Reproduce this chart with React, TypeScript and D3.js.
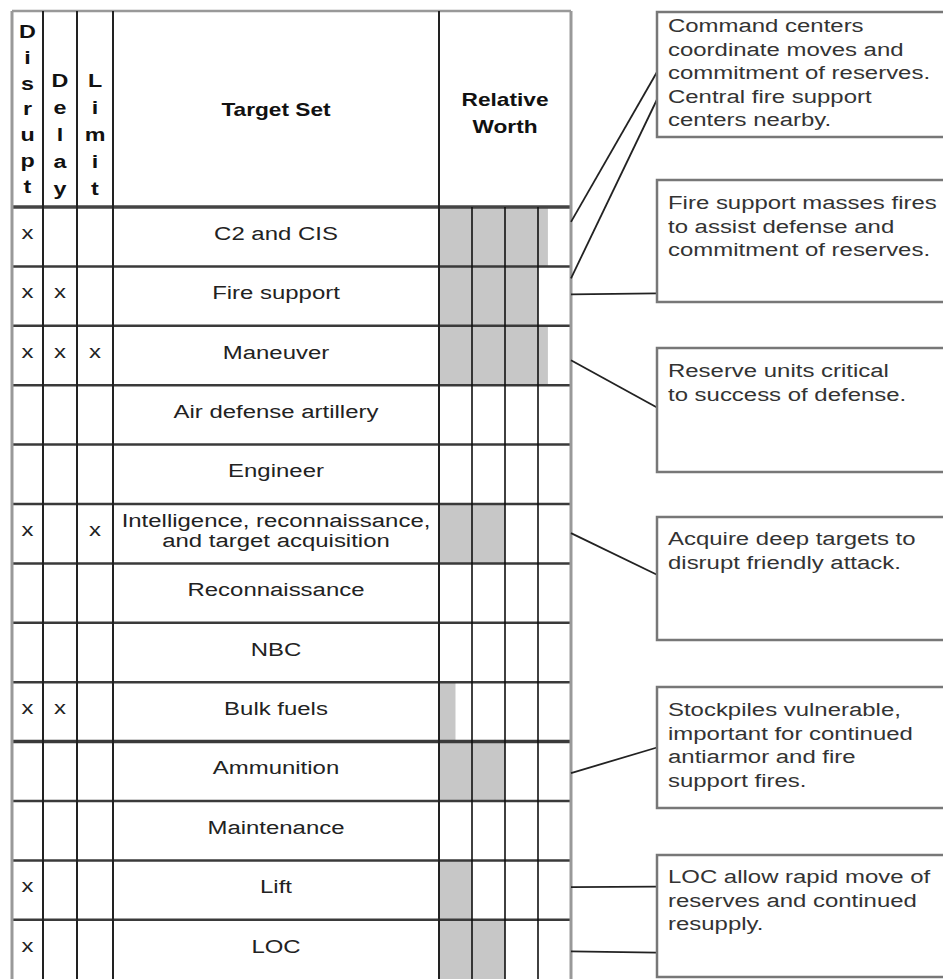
import React, { useEffect } from 'react';
import * as d3 from 'd3';

// Target sets, top to bottom
const targetSets = [
  'C2 and CIS',
  'Fire support',
  'Maneuver',
  'Air defense artillery',
  'Engineer',
  'Intelligence, reconnaissance,|and target acquisition',
  'Reconnaissance',
  'NBC',
  'Bulk fuels',
  'Ammunition',
  'Maintenance',
  'Lift',
  'LOC',
];

// x marks per effect column (1 = marked)
const disrupt = [1, 1, 1, 0, 0, 1, 0, 0, 1, 0, 0, 1, 1];
const delay = [0, 1, 1, 0, 0, 0, 0, 0, 1, 0, 0, 0, 0];
const limit = [0, 0, 1, 0, 0, 1, 0, 0, 0, 0, 0, 0, 0];

// Relative worth, in grid cells (0..4)
const relativeWorth = [3.3, 3, 3.3, 0, 0, 2, 0, 0, 0.5, 2, 0, 1, 2];
const worthTicks = [0, 1, 2, 3, 4];

const effectHeaders = ['Disrupt', 'Delay', 'Limit'];

const calloutText = [
  ['Command centers', 'coordinate moves and', 'commitment of reserves.', 'Central fire support', 'centers nearby.'],
  ['Fire support masses fires', 'to assist defense and', 'commitment of reserves.'],
  ['Reserve units critical', 'to success of defense.'],
  ['Acquire deep targets to', 'disrupt friendly attack.'],
  ['Stockpiles vulnerable,', 'important for continued', 'antiarmor and fire', 'support fires.'],
  ['LOC allow rapid move of', 'reserves and continued', 'resupply.'],
];

// which row points at which callout box
const calloutLinks = [
  { row: 0, box: 0 },
  { row: 1, box: 0 },
  { row: 1, box: 1 },
  { row: 2, box: 2 },
  { row: 5, box: 3 },
  { row: 9, box: 4 },
  { row: 11, box: 5 },
  { row: 12, box: 5 },
];

// layout
const W = 943;
const H = 979;
const font = '"Liberation Sans", Arial, Helvetica, sans-serif';
const SX = 1.26; // the scan is stretched sideways
const tableTop = 11;
const headTop = 207;
const rowH = 59.4;
const colX = [12, 43, 77, 113, 439, 571];
const boxLeft = 657;
const boxRight = 965;
const boxTop = [12, 180, 348, 517, 687, 855];
const boxH = [125, 122, 124, 123, 121, 122];
const firstLine = [13, 22, 22, 21, 22, 21];
const lineH = 23.5;
const linkAt = [
  { r: 0.25, b: 0.48 },
  { r: 0.2, b: 0.7 },
  { r: 0.47, b: 0.93 },
  { r: 0.58, b: 0.48 },
  { r: 0.49, b: 0.47 },
  { r: 0.53, b: 0.5 },
  { r: 0.45, b: 0.26 },
  { r: 0.53, b: 0.8 },
];

const Txt = ({ x, y, children, anchor = 'middle', weight = 'normal', fill = '#222', size = 19 }: any) => (
  <text
    transform={`translate(${x},${y}) scale(${SX},1)`}
    textAnchor={anchor}
    fontFamily={font}
    fontSize={size}
    fontWeight={weight}
    fill={fill}
  >
    {children}
  </text>
);

export default function App() {
  useEffect(() => {
    document.body.style.margin = '0';
  }, []);

  const y = d3.scaleBand<string>()
    .domain(targetSets)
    .range([headTop, headTop + rowH * targetSets.length])
    .padding(0);

  const xw = d3.scaleLinear().domain([0, 4]).range([colX[4], colX[5]]);

  const marks = [disrupt, delay, limit];
  const bottom = headTop + rowH * targetSets.length;

  return (
    <svg width={W} height={H} style={{ display: 'block', background: '#fff' }}>
      {/* relative worth fills */}
      {targetSets.map((t, i) =>
        relativeWorth[i] > 0 ? (
          <rect
            key={'f' + i}
            x={xw(0)}
            y={y(t)!}
            width={xw(relativeWorth[i]) - xw(0)}
            height={y.bandwidth()}
            fill="#c7c7c7"
          />
        ) : null
      )}

      {/* row separators */}
      {targetSets.map((t, i) => (
        <line
          key={'r' + i}
          x1={colX[0]}
          x2={colX[5]}
          y1={y(t)!}
          y2={y(t)!}
          stroke={i === 0 ? '#444' : '#3a3a3a'}
          strokeWidth={i === 0 ? 3.5 : i === 9 ? 3.5 : 2.5}
        />
      ))}
      <line x1={colX[0]} x2={colX[5]} y1={tableTop} y2={tableTop} stroke="#999" strokeWidth={2.5} />

      {/* worth grid lines */}
      {worthTicks.slice(1, 4).map(v => (
        <line key={'w' + v} x1={xw(v)} x2={xw(v)} y1={headTop} y2={bottom} stroke="#111" strokeWidth={1.6} />
      ))}

      {/* column dividers */}
      {colX.map((cx, i) => (
        <line
          key={'c' + i}
          x1={cx}
          x2={cx}
          y1={tableTop}
          y2={bottom}
          stroke={i === 0 || i === 5 ? '#999' : '#222'}
          strokeWidth={i === 0 || i === 5 ? 3 : 2}
        />
      ))}

      {/* header: vertical lettered effects */}
      {effectHeaders.map((h, c) => {
        const cx = (colX[c] + colX[c + 1]) / 2;
        const start = c === 0 ? 31 : 80;
        const step = c === 0 ? 25.8 : 27;
        return h.split('').map((ch, k) => (
          <Txt key={h + k} x={cx} y={start + k * step + 7} weight="bold" fill="#111" size={18.5}>
            {ch}
          </Txt>
        ));
      })}
      <Txt x={(colX[3] + colX[4]) / 2} y={116} weight="bold" fill="#111" size={18}>Target Set</Txt>
      <Txt x={(colX[4] + colX[5]) / 2} y={106} weight="bold" fill="#111" size={18}>Relative</Txt>
      <Txt x={(colX[4] + colX[5]) / 2} y={133} weight="bold" fill="#111" size={18}>Worth</Txt>

      {/* rows */}
      {targetSets.map((t, i) => {
        const cy = y(t)! + y.bandwidth() / 2;
        const parts = t.split('|');
        return (
          <g key={'t' + i}>
            {parts.map((p, k) => (
              <Txt key={k} x={(colX[3] + colX[4]) / 2} y={cy + 3 + (k - (parts.length - 1) / 2) * 20}>
                {p}
              </Txt>
            ))}
            {marks.map((m, c) =>
              m[i] ? (
                <Txt key={'m' + c} x={(colX[c] + colX[c + 1]) / 2} y={cy + 2} fill="#222">x</Txt>
              ) : null
            )}
          </g>
        );
      })}

      {/* callout connectors */}
      {calloutLinks.map((l, k) => (
        <line
          key={'l' + k}
          x1={colX[5]}
          y1={y(targetSets[l.row])! + y.bandwidth() * linkAt[k].r}
          x2={boxLeft}
          y2={boxTop[l.box] + boxH[l.box] * linkAt[k].b}
          stroke="#222"
          strokeWidth={1.8}
        />
      ))}

      {/* callout boxes */}
      {calloutText.map((lines, b) => (
        <g key={'b' + b}>
          <rect x={boxLeft} y={boxTop[b]} width={boxRight - boxLeft} height={boxH[b]} fill="#fff" stroke="#777" strokeWidth={2.5} />
          {lines.map((ln, k) => (
            <Txt key={k} x={boxLeft + 11} y={boxTop[b] + firstLine[b] + 7 + k * lineH} anchor="start" fill="#333">
              {ln}
            </Txt>
          ))}
        </g>
      ))}
    </svg>
  );
}
